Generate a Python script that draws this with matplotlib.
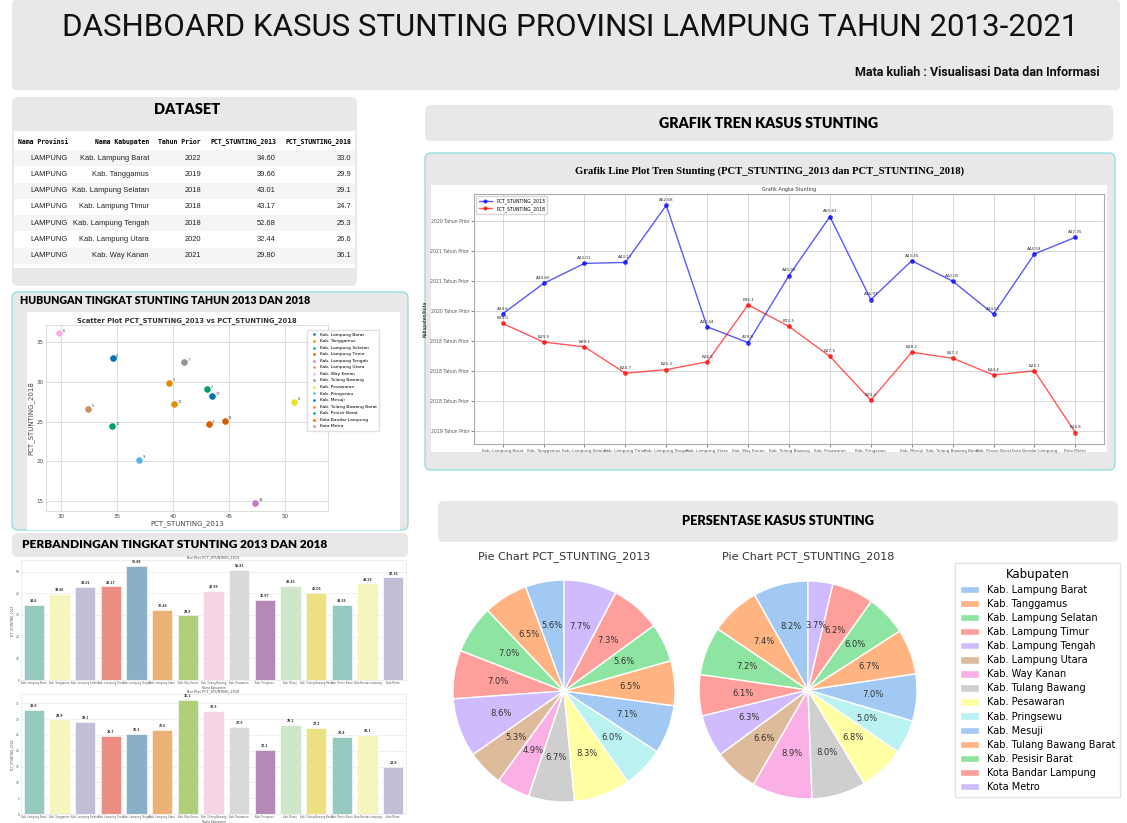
import numpy as np
import matplotlib
matplotlib.use("Agg")
import matplotlib.pyplot as plt
from matplotlib.patches import FancyBboxPatch, Rectangle
import matplotlib.transforms as mtransforms
import seaborn as sns

W, H = 1127, 823

kabupaten = ["Kab. Lampung Barat", "Kab. Tanggamus", "Kab. Lampung Selatan", "Kab. Lampung Timur",
             "Kab. Lampung Tengah", "Kab. Lampung Utara", "Kab. Way Kanan", "Kab. Tulang Bawang",
             "Kab. Pesawaran", "Kab. Pringsewu", "Kab. Mesuji", "Kab. Tulang Bawang Barat",
             "Kab. Pesisir Barat", "Kota Bandar Lampung", "Kota Metro"]
pct_2013 = [34.60, 39.66, 43.01, 43.17, 52.68, 32.44, 29.80, 40.99, 50.81, 36.97,
            43.45, 40.05, 34.55, 44.59, 47.35]
pct_2018 = [33.0, 29.9, 29.1, 24.7, 25.3, 26.6, 36.1, 32.5, 27.5, 20.2,
            28.2, 27.2, 24.4, 25.1, 14.8]
tahun_prior = [2022, 2019, 2018, 2018, 2018, 2020, 2021]
provinsi = "LAMPUNG"
n_rows_table = 7

# label sumbu y grafik tren (seperti di gambar asli)
tren_yticks = [15, 20, 25, 30, 35, 40, 45, 50]
tren_ylabels = ["2019 Tahun Prior", "2018 Tahun Prior", "2018 Tahun Prior", "2018 Tahun Prior",
                "2020 Tahun Prior", "2021 Tahun Prior", "2021 Tahun Prior", "2020 Tahun Prior"]

GRAY = "#e8e8e8"
TEAL = "#95dede"

fig = plt.figure(figsize=(W / 100, H / 100), dpi=100)
fig.patch.set_facecolor("white")
px = mtransforms.Affine2D().scale(1 / 100) + fig.dpi_scale_trans


def box(x0, y0, x1, y1, color=GRAY, edge="none", r=6, lw=1.0):
    p = FancyBboxPatch((x0, H - y1), x1 - x0, y1 - y0,
                       boxstyle=f"round,pad=0,rounding_size={r}",
                       transform=px, facecolor=color, edgecolor=edge, linewidth=lw, zorder=-2)
    fig.patches.append(p)


def rect(x0, y0, x1, y1, color):
    fig.patches.append(Rectangle((x0, H - y1), x1 - x0, y1 - y0, transform=px,
                                 facecolor=color, edgecolor="none", zorder=-1))


def txt(x, y, s, **kw):
    return fig.text(x / W, 1 - y / H, s, **kw)


def add_ax(x0, y0, x1, y1):
    return fig.add_axes([x0 / W, 1 - y1 / H, (x1 - x0) / W, (y1 - y0) / H])


# ---------------- header ----------------
box(12, 0, 1120, 90, r=4)
txt(570, 27, "DASHBOARD KASUS STUNTING PROVINSI LAMPUNG TAHUN 2013-2021", ha="center", va="center",
    fontsize=22.5, family="Roboto", fontweight="normal", color="#111111")
txt(1100, 73, "Mata kuliah : Visualisasi Data dan Informasi", ha="right", va="center",
    fontsize=9, fontweight="bold", family="Roboto", color="#111111")

# ---------------- dataset table ----------------
box(12, 97, 357, 286)
txt(187, 110, "DATASET", ha="center", va="center", fontsize=10.5, fontweight="heavy", family="Lato")
rect(14, 131, 355, 268, "white")
col_right = [68, 149, 201, 276, 351]
headers = ["Nama Provinsi", "Nama Kabupaten", "Tahun Prior", "PCT_STUNTING_2013", "PCT_STUNTING_2018"]
for xr, hd in zip(col_right, headers):
    txt(xr, 142, hd, ha="right", va="center", fontsize=4.7, fontweight="bold", family="DejaVu Sans Mono")
for i in range(n_rows_table):
    yc = 158 + i * 16.3
    if i % 2 == 0:
        rect(14, yc - 8, 355, yc + 8, "#f5f5f5")
    row = [provinsi, kabupaten[i], str(tahun_prior[i]), f"{pct_2013[i]:.2f}", f"{pct_2018[i]:.1f}"]
    for xr, s in zip(col_right, row):
        txt(xr, yc, s, ha="right", va="center", fontsize=5.4, family="Liberation Sans", color="#222222")

# ---------------- scatter ----------------
box(12, 292, 408, 530, edge=TEAL, r=6)
txt(20, 300, "HUBUNGAN TINGKAT STUNTING TAHUN 2013 DAN 2018", ha="left", va="center",
    fontsize=7.7, fontweight="heavy", family="Lato")
rect(27, 312, 400, 530, "white")
ax_sc = add_ax(46, 325, 328, 511)
cb = sns.color_palette("colorblind", 10)
for i, k in enumerate(kabupaten):
    ax_sc.scatter(pct_2013[i], pct_2018[i], s=28, color=cb[i % 10], edgecolor="white",
                  linewidth=0.5, label=k, zorder=3)
    ax_sc.annotate(str(i), (pct_2013[i], pct_2018[i]), xytext=(2.5, 1), textcoords="offset points",
                   fontsize=2.5, color="#444444")
ax_sc.set_title("Scatter Plot PCT_STUNTING_2013 vs PCT_STUNTING_2018", fontsize=4.9,
                fontweight="bold", color="#333333", pad=2)
ax_sc.set_xlabel("PCT_STUNTING_2013", fontsize=5, color="#444444", labelpad=1)
ax_sc.set_ylabel("PCT_STUNTING_2018", fontsize=5, color="#444444", labelpad=1)
ax_sc.set_xticks([30, 35, 40, 45, 50])
ax_sc.set_yticks([15, 20, 25, 30, 35])
ax_sc.tick_params(labelsize=4, length=0, pad=2, colors="#444444")
ax_sc.grid(True, color="#dddddd", linewidth=0.8)
ax_sc.set_axisbelow(True)
for sp in ax_sc.spines.values():
    sp.set_color("#dddddd")
ax_sc.legend(loc="upper left", bbox_to_anchor=(305 / W, 1 - 328 / H), bbox_transform=fig.transFigure,
             fontsize=3.2, markerscale=0.45, labelspacing=0.55, handletextpad=0.4, borderpad=0.5,
             frameon=True, framealpha=0.9, edgecolor="#dddddd", fancybox=False)

# ---------------- bar charts ----------------
box(12, 533, 408, 557)
txt(22, 545, "PERBANDINGAN TINGKAT STUNTING 2013 DAN 2018", ha="left", va="center",
    fontsize=8.6, fontweight="heavy", family="Lato")
set3 = [sns.desaturate(c, 0.75) for c in sns.color_palette("Set3", 12)]
bar_colors = [set3[i % 12] for i in range(len(kabupaten))]
pos = np.arange(len(kabupaten))
for (y0, y1), vals, name, step in [((560, 680), pct_2013, "PCT_STUNTING_2013", 10),
                                   ((694, 814), pct_2018, "PCT_STUNTING_2018", 5)]:
    ax = add_ax(21, y0, 406, y1)
    ax.bar(pos, vals, width=0.8, color=bar_colors, edgecolor="white", linewidth=0.4, zorder=2)
    for p, v in zip(pos, vals):
        ax.text(p, v + max(vals) * 0.015, f"{v}", ha="center", va="bottom", fontsize=2.2,
                fontweight="bold", color="#333333")
    ax.set_xlim(-0.5, len(kabupaten) - 0.5)
    ax.set_ylim(0, max(vals) * 1.05)
    ax.set_yticks(np.arange(0, max(vals), step))
    ax.set_xticks(pos)
    ax.set_xticklabels(kabupaten, fontsize=1.8, color="#555555")
    ax.tick_params(axis="y", labelsize=2.2, length=0, pad=1, colors="#555555")
    ax.tick_params(axis="x", length=0, pad=1)
    ax.set_title("Bar Plot " + name, fontsize=2.5, pad=1.5, color="#444444")
    ax.set_xlabel("Nama Kabupaten", fontsize=2, labelpad=0.5, color="#555555")
    ax.set_ylabel(name, fontsize=2.2, labelpad=1, color="#555555")
    ax.grid(True, axis="y", color="#eeeeee", linewidth=0.6)
    ax.set_axisbelow(True)
    for sp in ax.spines.values():
        sp.set_color("#eeeeee")

# ---------------- line chart ----------------
box(425, 105, 1113, 141)
txt(769, 123, "GRAFIK TREN KASUS STUNTING", ha="center", va="center", fontsize=10.3,
    fontweight="heavy", family="Lato")
box(425, 153, 1115, 470, edge=TEAL, r=6)
txt(770, 171, "Grafik Line Plot Tren Stunting (PCT_STUNTING_2013 dan PCT_STUNTING_2018)",
    ha="center", va="center", fontsize=7.7, fontweight="bold", family="Liberation Serif")
rect(431, 185, 1107, 452, "white")
ax_ln = add_ax(474, 194, 1104, 444)
ax_ln.plot(pos, pct_2013, "-o", color="blue", alpha=0.65, markersize=2.5, linewidth=1,
           label="PCT_STUNTING_2013")
ax_ln.plot(pos, pct_2018, "-o", color="red", alpha=0.65, markersize=2.5, linewidth=1,
           label="PCT_STUNTING_2018")
for p, a, b in zip(pos, pct_2013, pct_2018):
    ax_ln.annotate(f"A{a}", (p, a), xytext=(0, 3), textcoords="offset points", ha="center",
                   fontsize=3, color="#333333")
    ax_ln.annotate(f"B{b}", (p, b), xytext=(0, 3), textcoords="offset points", ha="center",
                   fontsize=3, color="#333333")
ax_ln.set_xticks(pos)
ax_ln.set_xticklabels(kabupaten, fontsize=2.9, color="#333333")
ax_ln.set_yticks(tren_yticks)
ax_ln.set_yticklabels(tren_ylabels, fontsize=3.3, color="#333333")
ax_ln.tick_params(length=2, width=0.5, pad=1.5, colors="#555555")
ax_ln.set_ylabel("Kabupaten/Kota", fontsize=3.3, labelpad=2)
ax_ln.set_title("Grafik Angka Stunting", fontsize=3.5, pad=2, color="#333333")
ax_ln.grid(True, color="#d8d8d8", linewidth=0.7)
for sp in ax_ln.spines.values():
    sp.set_color("#aaaaaa")
    sp.set_linewidth(0.8)
ax_ln.legend(loc="upper left", fontsize=3.3, markerscale=0.8, handlelength=3, labelspacing=0.4,
             borderpad=0.5, frameon=True, edgecolor="#cccccc", fancybox=False)

# ---------------- pies ----------------
box(438, 501, 1118, 542, r=6)
txt(778, 521, "PERSENTASE KASUS STUNTING", ha="center", va="center", fontsize=9.2,
    fontweight="heavy", family="Lato")
pastel = sns.color_palette("pastel", 10)
pie_colors = [pastel[i % 10] for i in range(len(kabupaten))]
pie_specs = [((453, 580, 675, 802), pct_2013, "Pie Chart PCT_STUNTING_2013", 564),
             ((699, 581, 917, 799), pct_2018, "Pie Chart PCT_STUNTING_2018", 808)]
wedges = None
for (x0, y0, x1, y1), vals, title, xc in pie_specs:
    ax = add_ax(x0, y0, x1, y1)
    w, _, autot = ax.pie(vals, colors=pie_colors, autopct="%1.1f%%", startangle=90,
                         wedgeprops=dict(edgecolor="white", linewidth=1),
                         textprops=dict(fontsize=6, color="#333333"))
    ax.set_aspect("auto")
    ax.set_xlim(-1, 1)
    ax.set_ylim(-1, 1)
    wedges = w
    txt(xc, 557, title, ha="center", va="center", fontsize=8, color="#333333")
fig.legend(wedges, kabupaten, title="Kabupaten", loc="upper left",
           bbox_to_anchor=(950 / W, 1 - 558 / H), fontsize=7, title_fontsize=8.5,
           labelspacing=0.42, handlelength=2.0, handleheight=0.8, borderpad=0.5,
           frameon=True, edgecolor="#dddddd", fancybox=False)

fig.savefig("out.png", dpi=100, facecolor="white")
